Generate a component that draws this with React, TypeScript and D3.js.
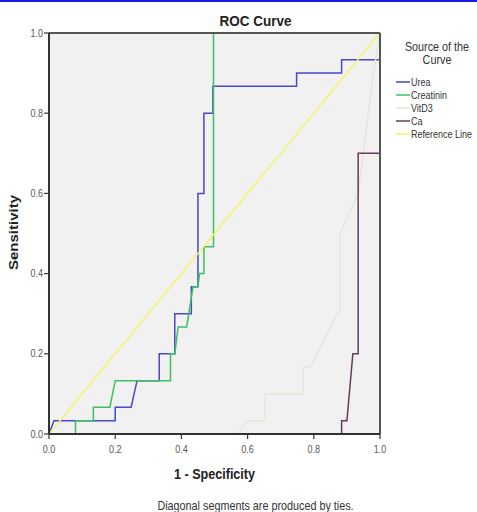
import React from "react";
import * as d3 from "d3";

const xTicks = [0, 0.2, 0.4, 0.6, 0.8, 1.0];
const yTicks = [0, 0.2, 0.4, 0.6, 0.8, 1.0];

const ureaFpr = [0, 0.015, 0.2, 0.2, 0.248, 0.266, 0.333, 0.333, 0.38, 0.38, 0.43, 0.43, 0.45, 0.45, 0.468, 0.468, 0.495, 0.495, 0.748, 0.748, 0.884, 0.884, 1, 1];
const ureaTpr = [0, 0.033, 0.033, 0.067, 0.067, 0.133, 0.133, 0.2, 0.2, 0.3, 0.3, 0.367, 0.367, 0.6, 0.6, 0.8, 0.8, 0.867, 0.867, 0.9, 0.9, 0.933, 0.933, 1];

const creatFpr = [0, 0.08, 0.08, 0.134, 0.134, 0.184, 0.2, 0.367, 0.367, 0.38, 0.39, 0.416, 0.435, 0.45, 0.455, 0.468, 0.468, 0.497, 0.497, 1];
const creatTpr = [0, 0, 0.033, 0.033, 0.067, 0.067, 0.133, 0.133, 0.2, 0.2, 0.267, 0.267, 0.367, 0.367, 0.4, 0.4, 0.467, 0.467, 1, 1];

const vitFpr = [0, 0.57, 0.597, 0.652, 0.652, 0.768, 0.768, 0.79, 0.87, 0.88, 0.88, 0.934, 0.98, 1];
const vitTpr = [0, 0, 0.033, 0.033, 0.1, 0.1, 0.167, 0.167, 0.3, 0.3, 0.5, 0.6, 0.9, 1];

const caFpr = [0, 0.884, 0.884, 0.9, 0.918, 0.934, 0.934, 1, 1];
const caTpr = [0, 0, 0.033, 0.033, 0.2, 0.2, 0.7, 0.7, 1];

const refFpr = [0, 1];
const refTpr = [0, 1];

const seriesNames = ["Urea", "Creatinin", "VitD3", "Ca", "Reference Line"];
const seriesColors = ["#4848cc", "#3cc060", "#e8e5d6", "#6a3a5c", "#f4f46a"];

export default function App() {
  const W = 477, H = 512;
  const x = d3.scaleLinear().domain([0, 1]).range([49, 380]);
  const y = d3.scaleLinear().domain([0, 1]).range([434, 33]);
  const line = d3.line<[number, number]>().x(d => x(d[0])).y(d => y(d[1]));
  const series: [number[], number[]][] = [
    [ureaFpr, ureaTpr],
    [creatFpr, creatTpr],
    [vitFpr, vitTpr],
    [caFpr, caTpr],
    [refFpr, refTpr],
  ];
  const fmt = d3.format(".1f");
  const font = "Liberation Sans, Arial, sans-serif";
  const sx = "scale(0.9,1)";
  return (
    <svg width={W} height={H} style={{ position: "absolute", left: 0, top: 0 }} fontFamily={font}>
      <rect x={0} y={0} width={W} height={H} fill="#ffffff" />
      <rect x={0} y={0} width={W} height={2} fill="#1a1ae6" />
      <rect x={x(0)} y={y(1)} width={x(1) - x(0)} height={y(0) - y(1)} fill="#f1f1f1" />
      {series.map((s, i) => (
        <path key={i} d={line(s[0].map((v, j) => [v, s[1][j]] as [number, number])) || ""}
          fill="none" stroke={seriesColors[i]} strokeWidth={1.5} />
      ))}
      {/* frame */}
      <line x1={x(0)} x2={x(1)} y1={y(1)} y2={y(1)} stroke="#555" strokeWidth={2} />
      <line x1={x(1)} x2={x(1)} y1={y(1)} y2={y(0)} stroke="#555" strokeWidth={2} />
      <line x1={x(0)} x2={x(0)} y1={y(1)} y2={y(0)} stroke="#333" strokeWidth={2} />
      <line x1={x(0)} x2={x(1)} y1={y(0)} y2={y(0)} stroke="#333" strokeWidth={2} />
      {yTicks.map(t => (
        <g key={"y" + t}>
          <line x1={x(0) - 5} x2={x(0)} y1={y(t)} y2={y(t)} stroke="#333" strokeWidth={1.2} />
          <text transform={`translate(${x(0) - 6},${y(t) + 3.5}) ${sx}`} textAnchor="end" fontSize={10} fill="#555">{fmt(t)}</text>
        </g>
      ))}
      {xTicks.map(t => (
        <g key={"x" + t}>
          <line x1={x(t)} x2={x(t)} y1={y(0)} y2={y(0) + 5} stroke="#333" strokeWidth={1.2} />
          <text transform={`translate(${x(t)},${y(0) + 19}) ${sx}`} textAnchor="middle" fontSize={10} fill="#555">{fmt(t)}</text>
        </g>
      ))}
      <text transform={`translate(255.5,26) ${sx}`} textAnchor="middle" fontSize={15} fontWeight="bold" fill="#222">ROC Curve</text>
      <text transform={`translate(214.5,479) ${sx}`} textAnchor="middle" fontSize={14} fontWeight="bold" fill="#222">1 - Specificity</text>
      <text transform={`translate(18,232.5) ${sx} rotate(-90)`} textAnchor="middle" fontSize={15} fontWeight="bold" fill="#222">Sensitivity</text>
      <text transform={`translate(255.5,510) ${sx}`} textAnchor="middle" fontSize={12} fill="#333">Diagonal segments are produced by ties.</text>
      {/* legend */}
      <text transform={`translate(437,51) ${sx}`} textAnchor="middle" fontSize={12} fill="#333">Source of the</text>
      <text transform={`translate(437,64) ${sx}`} textAnchor="middle" fontSize={12} fill="#333">Curve</text>
      {seriesNames.map((n, i) => (
        <g key={n}>
          <line x1={396} x2={410} y1={82 + i * 13} y2={82 + i * 13} stroke={seriesColors[i]} strokeWidth={1.5} />
          <text transform={`translate(411,${85.5 + i * 13}) ${sx}`} fontSize={10} fill="#333">{n}</text>
        </g>
      ))}
    </svg>
  );
}
